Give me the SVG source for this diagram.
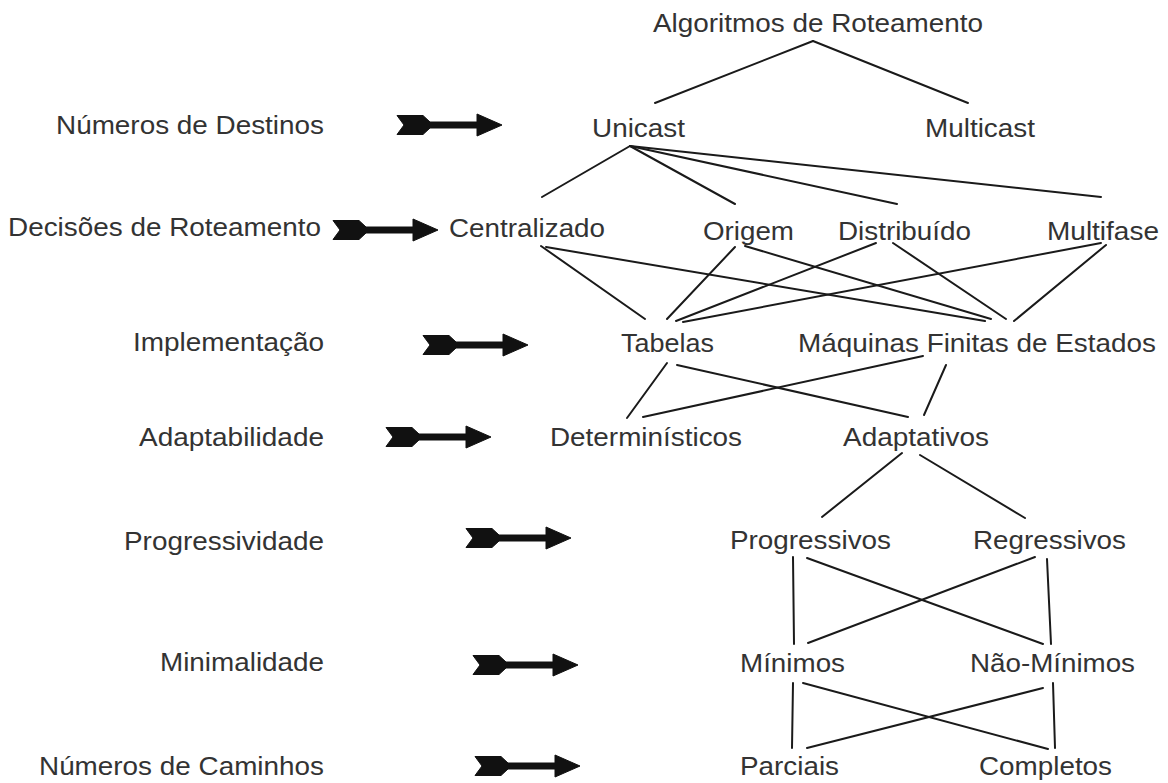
<svg xmlns="http://www.w3.org/2000/svg" xmlns:xlink="http://www.w3.org/1999/xlink" width="1168" height="783" viewBox="0 0 1168 783">
<style>
text { font-family: "Liberation Sans", Arial, sans-serif; font-size: 25px; fill: #333333; }
.lbl { text-anchor: end; }
.conn line { stroke: #1a1a1a; stroke-width: 2; stroke-linecap: round; }
.arr { fill: #111111; stroke: #111111; stroke-width: 1; stroke-linejoin: round; }
</style>
<defs>
<path id="arrow" class="arr" d="M0,-9.5 L26,-9.5 L33,-3 L80,-3 L80,-11 L105,0 L80,11 L80,3 L33,3 L26,9.5 L0,9.5 L7,0 Z"/>
</defs>
<rect width="1168" height="783" fill="#ffffff"/>

<g id="levels">
<g id="lvl-destinos"><text class="lbl" x="324" y="134" textLength="268" lengthAdjust="spacingAndGlyphs">Números de Destinos</text><use xlink:href="#arrow" href="#arrow" x="397" y="125"/></g>
<g id="lvl-decisoes"><text class="lbl" x="321" y="236" textLength="313" lengthAdjust="spacingAndGlyphs">Decisões de Roteamento</text><use xlink:href="#arrow" href="#arrow" x="333" y="230"/></g>
<g id="lvl-implementacao"><text class="lbl" x="324" y="351" textLength="191" lengthAdjust="spacingAndGlyphs">Implementação</text><use xlink:href="#arrow" href="#arrow" x="423" y="345"/></g>
<g id="lvl-adaptabilidade"><text class="lbl" x="324" y="446" textLength="185" lengthAdjust="spacingAndGlyphs">Adaptabilidade</text><use xlink:href="#arrow" href="#arrow" x="386" y="437"/></g>
<g id="lvl-progressividade"><text class="lbl" x="324" y="550" textLength="200" lengthAdjust="spacingAndGlyphs">Progressividade</text><use xlink:href="#arrow" href="#arrow" x="466" y="538"/></g>
<g id="lvl-minimalidade"><text class="lbl" x="324" y="671" textLength="164" lengthAdjust="spacingAndGlyphs">Minimalidade</text><use xlink:href="#arrow" href="#arrow" x="473" y="665"/></g>
<g id="lvl-caminhos"><text class="lbl" x="324" y="775" textLength="285" lengthAdjust="spacingAndGlyphs">Números de Caminhos</text><use xlink:href="#arrow" href="#arrow" x="475" y="766"/></g>
</g>

<g id="connectors" class="conn">
<line x1="813" y1="41" x2="655" y2="103"/>
<line x1="813" y1="41" x2="968" y2="103"/>
<line x1="630" y1="146" x2="542" y2="197"/>
<line x1="630" y1="146" x2="735" y2="204"/>
<line x1="630" y1="146" x2="897" y2="204"/>
<line x1="630" y1="146" x2="1101" y2="197"/>
<line x1="541" y1="246" x2="645" y2="319"/>
<line x1="546" y1="247" x2="985" y2="321"/>
<line x1="735" y1="247" x2="667" y2="319"/>
<line x1="745" y1="246" x2="991" y2="319"/>
<line x1="876" y1="243" x2="676" y2="321"/>
<line x1="893" y1="243" x2="1006" y2="319"/>
<line x1="1101" y1="243" x2="683" y2="322"/>
<line x1="1106" y1="245" x2="1014" y2="321"/>
<line x1="667" y1="363" x2="627" y2="418"/>
<line x1="677" y1="365" x2="908" y2="417"/>
<line x1="923" y1="356" x2="643" y2="417"/>
<line x1="946" y1="365" x2="924" y2="415"/>
<line x1="902" y1="453" x2="822" y2="517"/>
<line x1="920" y1="455" x2="1025" y2="518"/>
<line x1="793" y1="557" x2="794" y2="644"/>
<line x1="807" y1="558" x2="1043" y2="644"/>
<line x1="1035" y1="557" x2="808" y2="643"/>
<line x1="1047" y1="559" x2="1051" y2="644"/>
<line x1="793" y1="683" x2="792" y2="748"/>
<line x1="803" y1="683" x2="1048" y2="749"/>
<line x1="1043" y1="688" x2="807" y2="748"/>
<line x1="1053" y1="683" x2="1055" y2="748"/>
</g>

<g id="n-algoritmos"><text x="653" y="32" textLength="330" lengthAdjust="spacingAndGlyphs">Algoritmos de Roteamento</text></g>
<g id="n-unicast"><text x="592" y="137" textLength="93" lengthAdjust="spacingAndGlyphs">Unicast</text></g>
<g id="n-multicast"><text x="925" y="137" textLength="110" lengthAdjust="spacingAndGlyphs">Multicast</text></g>
<g id="n-centralizado"><text x="449" y="237" textLength="156" lengthAdjust="spacingAndGlyphs">Centralizado</text></g>
<g id="n-origem"><text x="703" y="240" textLength="91" lengthAdjust="spacingAndGlyphs">Origem</text></g>
<g id="n-distribuido"><text x="838" y="240" textLength="133" lengthAdjust="spacingAndGlyphs">Distribuído</text></g>
<g id="n-multifase"><text x="1047" y="240" textLength="112" lengthAdjust="spacingAndGlyphs">Multifase</text></g>
<g id="n-tabelas"><text x="621" y="352" textLength="93" lengthAdjust="spacingAndGlyphs">Tabelas</text></g>
<g id="n-maquinas"><text x="798" y="352" textLength="358" lengthAdjust="spacingAndGlyphs">Máquinas Finitas de Estados</text></g>
<g id="n-deterministicos"><text x="550" y="446" textLength="192" lengthAdjust="spacingAndGlyphs">Determinísticos</text></g>
<g id="n-adaptativos"><text x="843" y="446" textLength="146" lengthAdjust="spacingAndGlyphs">Adaptativos</text></g>
<g id="n-progressivos"><text x="730" y="549" textLength="161" lengthAdjust="spacingAndGlyphs">Progressivos</text></g>
<g id="n-regressivos"><text x="973" y="549" textLength="153" lengthAdjust="spacingAndGlyphs">Regressivos</text></g>
<g id="n-minimos"><text x="740" y="672" textLength="105" lengthAdjust="spacingAndGlyphs">Mínimos</text></g>
<g id="n-nao-minimos"><text x="970" y="672" textLength="165" lengthAdjust="spacingAndGlyphs">Não-Mínimos</text></g>
<g id="n-parciais"><text x="740" y="775" textLength="99" lengthAdjust="spacingAndGlyphs">Parciais</text></g>
<g id="n-completos"><text x="979" y="775" textLength="133" lengthAdjust="spacingAndGlyphs">Completos</text></g>
</svg>
